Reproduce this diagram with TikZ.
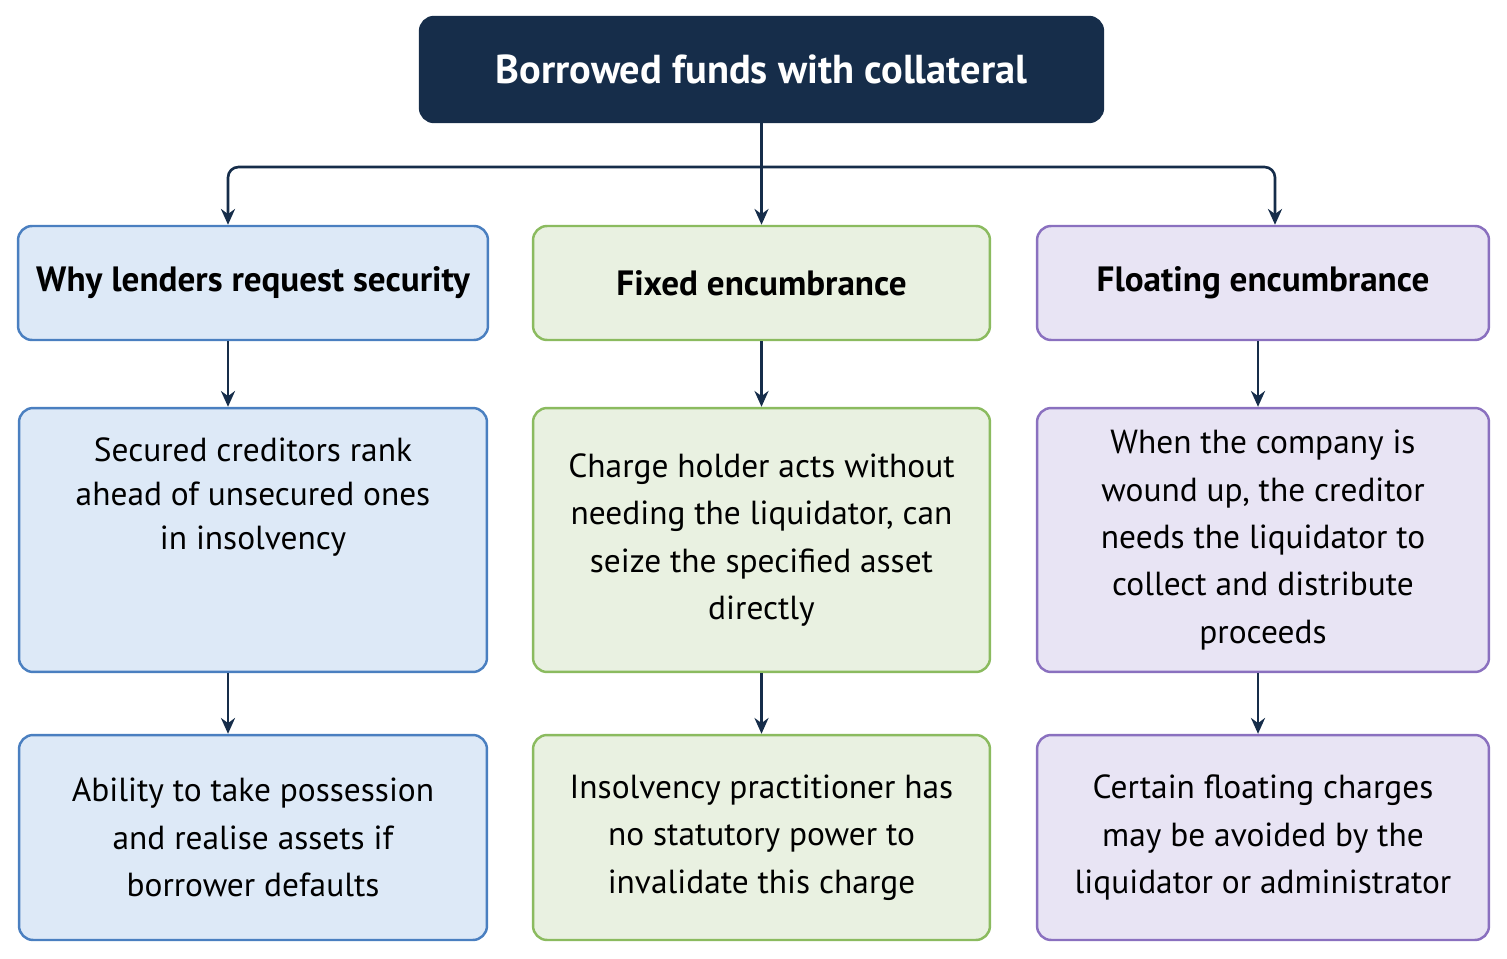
\documentclass[tikz,border=0pt]{standalone}
\usepackage{fontspec}
\setmainfont{PT Sans}
\usetikzlibrary{arrows.meta,positioning}
\definecolor{navy}{HTML}{162D4A}
\definecolor{bluefill}{HTML}{DDE9F7}
\definecolor{bluedraw}{HTML}{4A7FC0}
\definecolor{greenfill}{HTML}{E9F1E1}
\definecolor{greendraw}{HTML}{8BBB5F}
\definecolor{purpfill}{HTML}{E8E4F4}
\definecolor{purpdraw}{HTML}{8A70BF}
\tikzset{
  box/.style={rectangle,rounded corners=8pt,line width=1.4pt,align=center,
    font=\fontsize{19}{27}\selectfont},
  bluebox/.style={box,fill=bluefill,draw=bluedraw},
  greenbox/.style={box,fill=greenfill,draw=greendraw},
  purpbox/.style={box,fill=purpfill,draw=purpdraw},
  head/.style={font=\fontsize{20}{24}\selectfont\bfseries},
  link/.style={draw=navy,line width=1.5pt,-{Stealth[length=9pt,width=8pt]}}
}
\begin{document}
\begin{tikzpicture}[x=0.02cm,y=-0.02cm]
\useasboundingbox (0,0) rectangle (1507,959);
% top
\node[box,fill=navy,draw=navy,text=white,minimum width=13.66cm,minimum height=2.1cm,
  font=\fontsize{23}{28}\selectfont\bfseries] (top) at (761.5,69.5) {Borrowed funds with collateral};
% row 1
\node[bluebox,head,minimum width=9.4cm,minimum height=2.28cm] (why) at (253,283) {Why lenders request security};
\node[greenbox,head,minimum width=9.14cm,minimum height=2.28cm] (fixed) at (761.5,283) {Fixed encumbrance};
\node[purpbox,head,minimum width=9.04cm,minimum height=2.28cm] (float) at (1263,283) {Floating encumbrance};
% row 2
\node[bluebox,minimum width=9.36cm,minimum height=5.28cm] (rank) at (253,540) {};
\node[anchor=north,align=center,font=\fontsize{19}{25}\selectfont] at (253,432) {Secured creditors rank\\ahead of unsecured ones\\in insolvency};
\node[greenbox,minimum width=9.14cm,minimum height=5.28cm] (seize) at (761.5,540) {Charge holder acts without\\needing the liquidator, can\\seize the specified asset\\directly};
\node[purpbox,minimum width=9.04cm,minimum height=5.28cm] (wound) at (1263,540) {When the company is\\wound up, the creditor\\needs the liquidator to\\collect and distribute\\proceeds};
% row 3
\node[bluebox,minimum width=9.36cm,minimum height=4.1cm] (poss) at (253,837.5) {Ability to take possession\\and realise assets if\\borrower defaults};
\node[greenbox,minimum width=9.14cm,minimum height=4.1cm] (power) at (761.5,837.5) {Insolvency practitioner has\\no statutory power to\\invalidate this charge};
\node[purpbox,minimum width=9.04cm,minimum height=4.1cm] (avoid) at (1263,837.5) {Certain floating charges\\may be avoided by the\\liquidator or administrator};
% connectors
\coordinate (split) at (761.5,167);
\draw[link] (top.south) -- (fixed.north);
\draw[link,rounded corners=6pt] (split) -| ([xshift=-0.5cm]why.north);
\draw[link,rounded corners=6pt] (split) -| ([xshift=0.24cm]float.north);
\draw[link] ([xshift=-0.5cm]why.south) -- ([xshift=-0.5cm]rank.north);
\draw[link] ([xshift=-0.5cm]rank.south) -- ([xshift=-0.5cm]poss.north);
\draw[link] (fixed.south) -- (seize.north);
\draw[link] (seize.south) -- (power.north);
\draw[link] ([xshift=-0.1cm]float.south) -- ([xshift=-0.1cm]wound.north);
\draw[link] ([xshift=-0.1cm]wound.south) -- ([xshift=-0.1cm]avoid.north);
\end{tikzpicture}
\end{document}
